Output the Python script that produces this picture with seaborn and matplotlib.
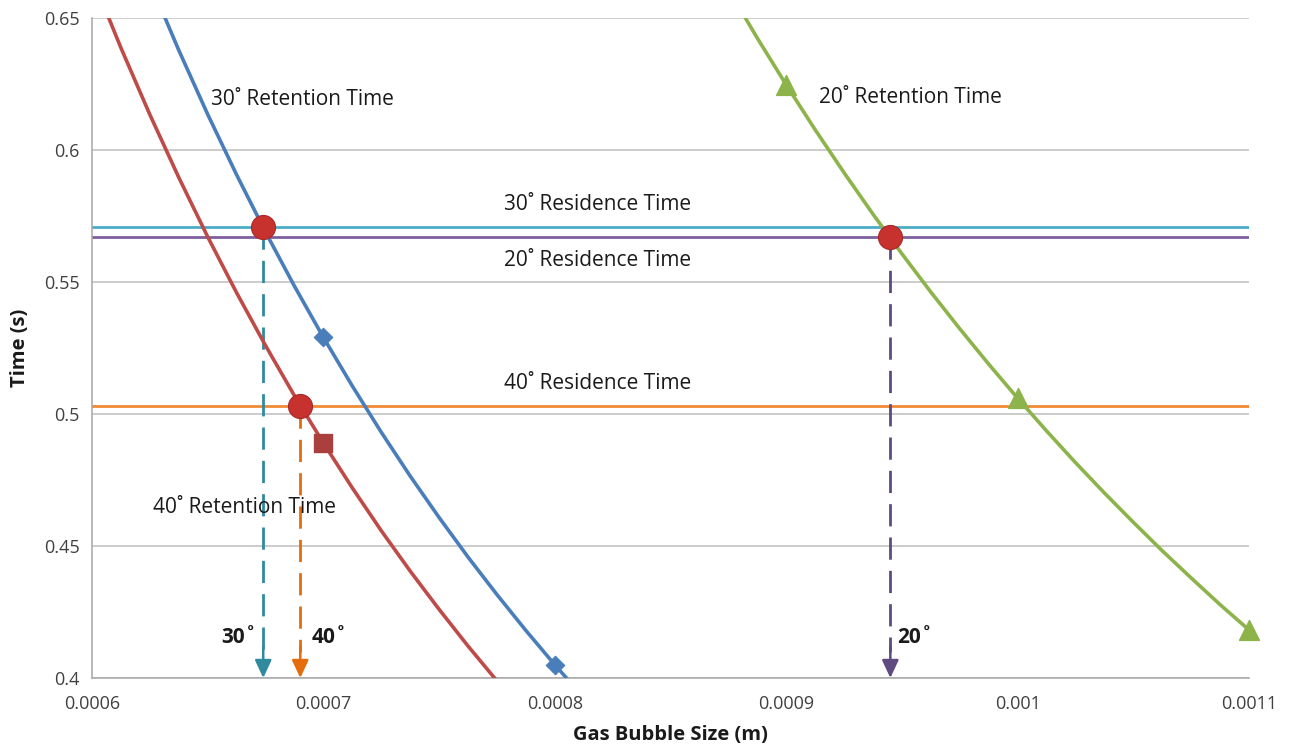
import matplotlib
matplotlib.use("Agg")
import matplotlib.pyplot as plt
import seaborn as sns
import numpy as np
import pandas as pd

# ---------------- data ----------------
# 30 deg retention time curve (blue)
ret30_x = [0.000625, 0.0006375, 0.00065, 0.0006625, 0.000675, 0.0006875, 0.0007, 0.0007125,
           0.000725, 0.0007375, 0.00075, 0.0007625, 0.000775, 0.0007875, 0.0008, 0.0008125]
ret30_y = [0.6636, 0.6378, 0.6135, 0.5906, 0.5689, 0.5484, 0.5290, 0.5106,
           0.4931, 0.4765, 0.4608, 0.4458, 0.4316, 0.4180, 0.4050, 0.3926]
ret30_mx = [0.0007, 0.0008]
ret30_my = [0.5290, 0.4050]

# 40 deg retention time curve (red)
ret40_x = [0.0006, 0.0006125, 0.000625, 0.0006375, 0.00065, 0.0006625, 0.000675, 0.0006875,
           0.0007, 0.0007125, 0.000725, 0.0007375, 0.00075, 0.0007625, 0.000775, 0.0007875]
ret40_y = [0.6656, 0.6387, 0.6134, 0.5896, 0.5671, 0.5459, 0.5259, 0.5069,
           0.4890, 0.4720, 0.4558, 0.4405, 0.4260, 0.4121, 0.3989, 0.3864]
ret40_mx = [0.0007]
ret40_my = [0.4890]

# 20 deg retention time curve (green)
ret20_x = [0.000875, 0.0008875, 0.0009, 0.0009125, 0.000925, 0.0009375, 0.00095, 0.0009625,
           0.000975, 0.0009875, 0.001, 0.0010125, 0.001025, 0.0010375, 0.00105, 0.0010625,
           0.001075, 0.0010875, 0.0011]
ret20_y = [0.6609, 0.6424, 0.6247, 0.6077, 0.5914, 0.5757, 0.5607, 0.5462,
           0.5323, 0.5189, 0.5060, 0.4936, 0.4816, 0.4701, 0.4590, 0.4482,
           0.4379, 0.4278, 0.4182]
ret20_mx = [0.0009, 0.001, 0.0011]
ret20_my = [0.6247, 0.5060, 0.4182]

# residence times (horizontal lines)
res_labels = ["30˚ Residence Time", "20˚ Residence Time", "40˚ Residence Time"]
res_values = [0.571, 0.567, 0.503]

# intersections (bubble size where retention = residence)
inter_angles = ["30˚", "40˚", "20˚"]
inter_x = [0.000674, 0.000690, 0.000945]
inter_y = [0.571, 0.503, 0.567]

x_ticks = [0.0006, 0.0007, 0.0008, 0.0009, 0.001, 0.0011]
x_ticklabels = ["0.0006", "0.0007", "0.0008", "0.0009", "0.001", "0.0011"]
y_ticks = [0.4, 0.45, 0.5, 0.55, 0.6, 0.65]
y_ticklabels = ["0.4", "0.45", "0.5", "0.55", "0.6", "0.65"]

# ---------------- style ----------------
sns.set_theme(style="white")
plt.rcParams['font.family'] = ['Open Sans', 'DejaVu Sans']

BLUE = "#4A7EBB"
RED = "#BE4B48"
GREEN = "#8CB44A"
TEAL = "#4BACC6"
PURPLE = "#7D5FA0"
ORANGE = "#F08A34"
TEAL_D = "#31899E"
ORANGE_D = "#E46C0A"
PURPLE_D = "#5F4B80"
GRID = "#BFBFBF"
TXT = "#1a1a1a"

fig = plt.figure(figsize=(12.9, 7.52), dpi=100)
ax = fig.add_axes([92 / 1290, 1 - 678 / 752, (1249 - 92) / 1290, (678 - 18) / 752])

ax.set_xlim(0.0006, 0.0011)
ax.set_ylim(0.4, 0.65)
ax.set_yticks(y_ticks)
ax.set_yticklabels(y_ticklabels)
ax.set_xticks(x_ticks)
ax.set_xticklabels(x_ticklabels)
ax.yaxis.grid(True, color=GRID, linewidth=1.1)
ax.xaxis.grid(False)
ax.set_axisbelow(True)
for s in ["top", "right"]:
    ax.spines[s].set_visible(False)
for s in ["left", "bottom"]:
    ax.spines[s].set_color("#A6A6A6")
    ax.spines[s].set_linewidth(1.1)
ax.tick_params(axis="both", which="major", direction="out", length=5, width=1.0,
               color="#A6A6A6", labelsize=13, labelcolor="#404040")
ax.tick_params(axis="y", pad=4)
ax.tick_params(axis="x", pad=7)

# residence lines
for val, col in zip(res_values, [TEAL, PURPLE, ORANGE]):
    ax.axhline(val, color=col, linewidth=2.0, zorder=2)

# retention curves
sns.lineplot(x=ret40_x, y=ret40_y, ax=ax, color=RED, linewidth=2.6, sort=False, zorder=3)
sns.lineplot(x=ret30_x, y=ret30_y, ax=ax, color=BLUE, linewidth=2.6, sort=False, zorder=3)
sns.lineplot(x=ret20_x, y=ret20_y, ax=ax, color=GREEN, linewidth=2.6, sort=False, zorder=3)

sns.scatterplot(x=ret30_mx, y=ret30_my, ax=ax, color=BLUE, marker="D", s=90, edgecolor=BLUE, zorder=4)
sns.scatterplot(x=ret40_mx, y=ret40_my, ax=ax, color="#A9403E", marker="s", s=150, edgecolor="#A9403E", zorder=4)
sns.scatterplot(x=ret20_mx, y=ret20_my, ax=ax, color=GREEN, marker="^", s=200, edgecolor=GREEN,
                zorder=4, clip_on=False)

# dashed drop lines with arrow heads
for xv, yv, col in zip(inter_x, inter_y, [TEAL_D, ORANGE_D, PURPLE_D]):
    ax.plot([xv, xv], [yv, 0.41], color=col, linewidth=2.0, linestyle=(0, (8, 4)), zorder=2)
    ax.annotate("", xy=(xv, 0.4), xytext=(xv, 0.412),
                arrowprops=dict(arrowstyle="-|>,head_length=0.9,head_width=0.42",
                                color=col, linewidth=1.8, shrinkA=0, shrinkB=0), zorder=2)

# intersection points
sns.scatterplot(x=inter_x, y=inter_y, ax=ax, color="#C8322E", marker="o", s=300,
                edgecolor="#A52A27", linewidth=0.8, zorder=6, clip_on=False)

# labels
FS = 15
ax.text(0.0006515, 0.619, "30˚ Retention Time", fontsize=FS, color=TXT, ha="left", va="center")
ax.text(0.000914, 0.620, "20˚ Retention Time", fontsize=FS, color=TXT, ha="left", va="center")
ax.text(0.000666, 0.4644, "40˚ Retention Time", fontsize=FS, color=TXT, ha="center", va="center")
ax.text(0.0008186, 0.5792, res_labels[0], fontsize=FS, color=TXT, ha="center", va="center")
ax.text(0.0008186, 0.5583, res_labels[1], fontsize=FS, color=TXT, ha="center", va="center")
ax.text(0.0008186, 0.5114, res_labels[2], fontsize=FS, color=TXT, ha="center", va="center")
for xv, lab, off in zip(inter_x, inter_angles, [-0.0000105, 0.0000125, 0.0000105]):
    ax.text(xv + off, 0.4155, lab, fontsize=FS, fontweight="bold", color=TXT,
            ha="center", va="center")

ax.set_xlabel("Gas Bubble Size (m)", fontsize=14.5, fontweight="bold", color=TXT, labelpad=9)
ax.set_ylabel("Time (s)", fontsize=14.5, fontweight="bold", color=TXT, labelpad=10)

fig.savefig("out.png", dpi=100)
